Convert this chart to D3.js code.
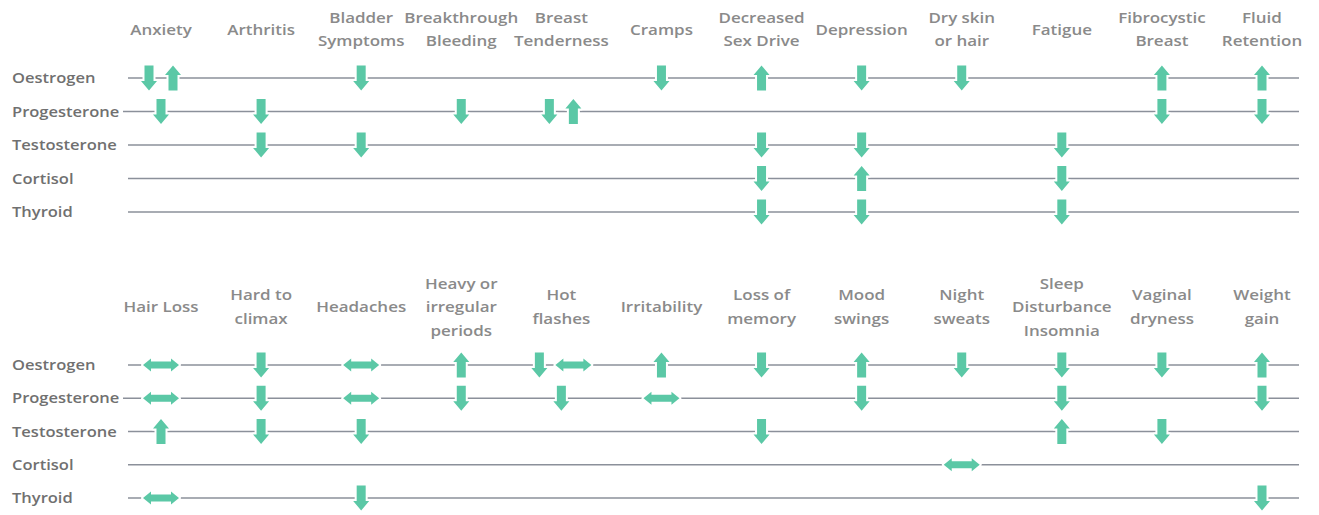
<!DOCTYPE html>
<html>
<head>
<meta charset="utf-8">
<script src="https://cdn.jsdelivr.net/npm/d3@7"></script>
<style>
  body { margin: 0; background: #fff; }
  text { font-family: "Open Sans", sans-serif; }
</style>
</head>
<body>
<svg></svg>
<script>
// hormones down the side, same for both panels
const hormones = ["Oestrogen", "Progesterone", "Testosterone", "Cortisol", "Thyroid"]

// symptoms across the top (| breaks the label into lines)
const topSymptoms = ["Anxiety", "Arthritis", "Bladder|Symptoms", "Breakthrough|Bleeding",
  "Breast|Tenderness", "Cramps", "Decreased|Sex Drive", "Depression", "Dry skin|or hair",
  "Fatigue", "Fibrocystic|Breast", "Fluid|Retention"]

const bottomSymptoms = ["Hair Loss", "Hard to|climax", "Headaches", "Heavy or|irregular|periods",
  "Hot|flashes", "Irritability", "Loss of|memory", "Mood|swings", "Night|sweats",
  "Sleep|Disturbance|Insomnia", "Vaginal|dryness", "Weight|gain"]

// [symptom index, hormone, direction]
const topArrows = [
  [0, "Oestrogen", "down"], [0, "Oestrogen", "up"], [0, "Progesterone", "down"],
  [1, "Progesterone", "down"], [1, "Testosterone", "down"],
  [2, "Oestrogen", "down"], [2, "Testosterone", "down"],
  [3, "Progesterone", "down"],
  [4, "Progesterone", "down"], [4, "Progesterone", "up"],
  [5, "Oestrogen", "down"],
  [6, "Oestrogen", "up"], [6, "Testosterone", "down"], [6, "Cortisol", "down"], [6, "Thyroid", "down"],
  [7, "Oestrogen", "down"], [7, "Testosterone", "down"], [7, "Cortisol", "up"], [7, "Thyroid", "down"],
  [8, "Oestrogen", "down"],
  [9, "Testosterone", "down"], [9, "Cortisol", "down"], [9, "Thyroid", "down"],
  [10, "Oestrogen", "up"], [10, "Progesterone", "down"],
  [11, "Oestrogen", "up"], [11, "Progesterone", "down"]
]

const bottomArrows = [
  [0, "Oestrogen", "both"], [0, "Progesterone", "both"], [0, "Testosterone", "up"], [0, "Thyroid", "both"],
  [1, "Oestrogen", "down"], [1, "Progesterone", "down"], [1, "Testosterone", "down"],
  [2, "Oestrogen", "both"], [2, "Progesterone", "both"], [2, "Testosterone", "down"], [2, "Thyroid", "down"],
  [3, "Oestrogen", "up"], [3, "Progesterone", "down"],
  [4, "Oestrogen", "down"], [4, "Oestrogen", "both"], [4, "Progesterone", "down"],
  [5, "Oestrogen", "up"], [5, "Progesterone", "both"],
  [6, "Oestrogen", "down"], [6, "Testosterone", "down"],
  [7, "Oestrogen", "up"], [7, "Progesterone", "down"],
  [8, "Oestrogen", "down"], [8, "Cortisol", "both"],
  [9, "Oestrogen", "down"], [9, "Progesterone", "down"], [9, "Testosterone", "up"],
  [10, "Oestrogen", "down"], [10, "Testosterone", "down"],
  [11, "Oestrogen", "up"], [11, "Progesterone", "down"], [11, "Thyroid", "down"]
]

const svg = d3.select("svg")
svg
  .attr("width", 1319)
  .attr("height", 515)

const stretch = 1.17   // the picture is a bit wide, text too
const teal = "#5bc8a6"

// arrow shapes, centred on 0,0
const shapes = {
  down: "M-4.5,-12.5 L4.5,-12.5 L4.5,3 L8,3 L0,12.5 L-8,3 L-4.5,3 Z",
  up: "M-4.5,12.5 L4.5,12.5 L4.5,-3 L8,-3 L0,-12.5 L-8,-3 L-4.5,-3 Z",
  both: "M-18,0 L-10,-6.5 L-10,-3.5 L10,-3.5 L10,-6.5 L18,0 L10,6.5 L10,3.5 L-10,3.5 L-10,6.5 Z"
}
const halfWidth = { down: 8, up: 8, both: 18 }

const drawPanel = function (symptoms, arrows, rowTop, rowBottom, headerMid) {
  const g = svg.append("g")

  const scaleX = d3.scalePoint()
    .domain(d3.range(symptoms.length))
    .range([161, 1262])

  const scaleY = d3.scalePoint()
    .domain(hormones)
    .range([rowTop, rowBottom])

  // row lines
  g.selectAll("line.row")
    .data(hormones)
    .enter()
    .append("line")
    .attr("class", "row")
    .attr("x1", d => d === "Progesterone" ? 123 : 128)
    .attr("x2", 1299)
    .attr("y1", d => scaleY(d))
    .attr("y2", d => scaleY(d))
    .attr("stroke", "#8b909a")
    .attr("stroke-width", 1.6)

  // row labels
  g.selectAll("text.hormone")
    .data(hormones)
    .enter()
    .append("text")
    .attr("class", "hormone")
    .attr("transform", d => `translate(12,${scaleY(d)}) scale(1.14,1)`)
    .attr("dy", "0.35em")
    .attr("font-size", 14.5)
    .attr("font-weight", 600)
    .attr("fill", "#707070")
    .text(d => d)

  // column headers
  const lineH = 23.5
  const heads = g.selectAll("text.symptom")
    .data(symptoms)
    .enter()
    .append("text")
    .attr("class", "symptom")
    .attr("text-anchor", "middle")
    .attr("font-size", 14.5)
    .attr("font-weight", 600)
    .attr("fill", "#8a8a8a")
    .attr("transform", (d, i) => {
      const n = d.split("|").length
      const y = headerMid - (n - 1) * lineH / 2
      return `translate(${scaleX(i)},${y}) scale(${stretch},1)`
    })
  heads.selectAll("tspan")
    .data(d => d.split("|"))
    .enter()
    .append("tspan")
    .attr("x", 0)
    .attr("y", (d, i) => i * lineH)
    .attr("dy", "0.35em")
    .text(d => d)

  // arrows: several in one cell sit side by side
  const cells = d3.group(arrows, d => d[0] + "|" + d[1])
  const placed = []
  cells.forEach(list => {
    const gap = 8
    const total = d3.sum(list, d => halfWidth[d[2]] * 2) + gap * (list.length - 1)
    let x = -total / 2
    list.forEach(d => {
      placed.push({ col: d[0], hormone: d[1], dir: d[2], off: x + halfWidth[d[2]] })
      x += halfWidth[d[2]] * 2 + gap
    })
  })

  g.selectAll("path.arrow")
    .data(placed)
    .enter()
    .append("path")
    .attr("class", "arrow")
    .attr("d", d => shapes[d.dir])
    .attr("transform", d => `translate(${scaleX(d.col) + d.off},${scaleY(d.hormone)})`)
    .attr("fill", teal)
    .attr("stroke", "#fff")
    .attr("stroke-width", 4)
    .attr("stroke-linejoin", "round")
    .style("paint-order", "stroke")
}

drawPanel(topSymptoms, topArrows, 78, 212, 29.5)
drawPanel(bottomSymptoms, bottomArrows, 365, 498, 307)
</script>
</body>
</html>
